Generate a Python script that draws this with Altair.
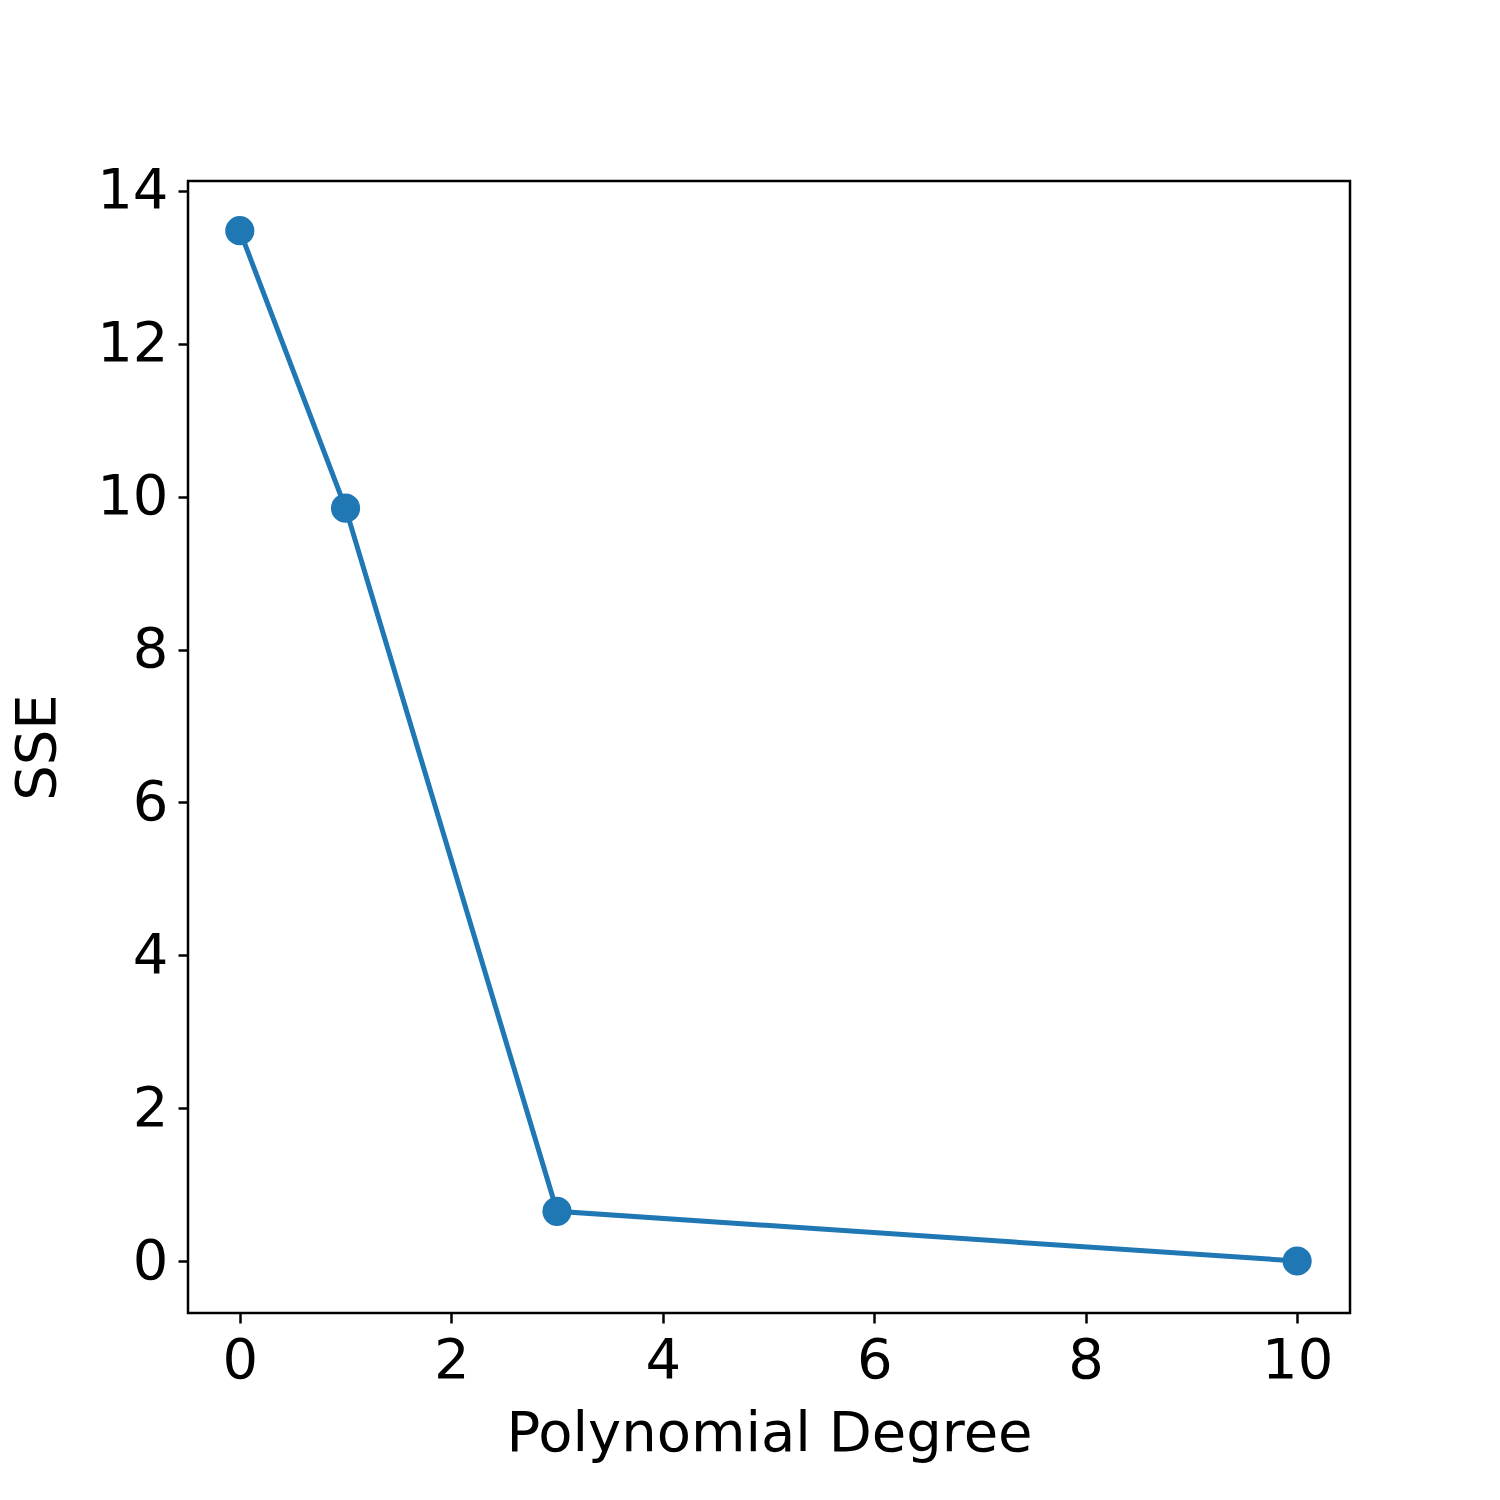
import altair as alt
import pandas as pd

degree = [0, 1, 3, 10]
sse = [13.48, 9.85, 0.65, 0.0]

df = pd.DataFrame({"degree": degree, "sse": sse})

x = alt.X("degree:Q", scale=alt.Scale(domain=[-0.49, 10.5], nice=False, zero=False),
          axis=alt.Axis(title="Polynomial Degree", values=[0, 2, 4, 6, 8, 10]))
y = alt.Y("sse:Q", scale=alt.Scale(domain=[-0.68, 14.13], nice=False, zero=False),
          axis=alt.Axis(title="SSE", values=[0, 2, 4, 6, 8, 10, 12, 14]))

base = alt.Chart(df).encode(x=x, y=y)
line = base.mark_line(color="#1f77b4", strokeWidth=5)
pts = base.mark_circle(color="#1f77b4", size=850, opacity=1)

chart = (line + pts).properties(
    width=1162, height=1132,
    autosize=alt.AutoSizeParams(type="none"),
    padding={"left": 180, "top": 173, "right": 142, "bottom": 180},
).configure_view(stroke="black", strokeWidth=2.5).configure_axis(
    grid=False, domain=False, tickColor="black", tickWidth=2.5, tickSize=10,
    labelFont="DejaVu Sans", labelFontSize=56, labelColor="black", labelPadding=10,
    titleFont="DejaVu Sans", titleFontSize=56, titleColor="black", titleFontWeight="normal",
).configure_axisX(titlePadding=18).configure_axisY(titlePadding=30)

chart.save("out.html", embed_options={"renderer": "svg", "actions": False})
